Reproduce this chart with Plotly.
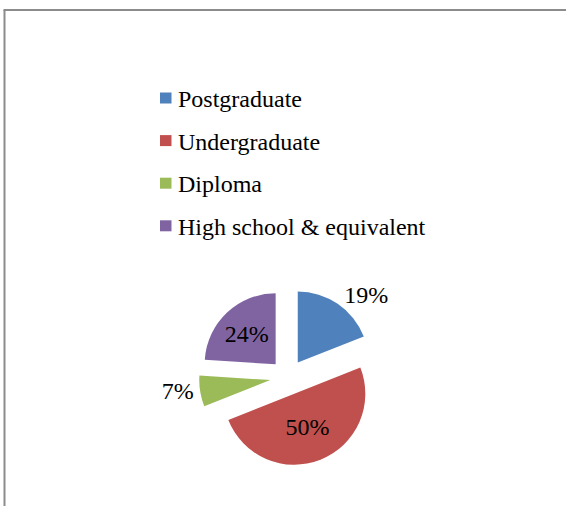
import plotly.graph_objects as go

# Education level shares (percent)
categories = ["Postgraduate", "Undergraduate", "Diploma", "High school & equivalent"]
shares = [19, 50, 7, 24]
colors = ["#4F81BD", "#C0504D", "#9BBB59", "#8064A2"]
label_positions = ["outside", "inside", "outside", "inside"]

W, H = 567, 506
FONT = "'Liberation Serif', 'Times New Roman', Times, serif"


def px_x(v):
    return v / W


def px_y(v):
    return 1 - v / H


fig = go.Figure()

fig.add_trace(go.Pie(
    labels=categories,
    values=shares,
    sort=False,
    direction="clockwise",
    rotation=0,
    pull=[0.25] * len(shares),
    marker=dict(colors=colors, line=dict(width=0)),
    textinfo="percent",
    texttemplate="%{percent:.0%}",
    textposition=label_positions,
    insidetextorientation="horizontal",
    textfont=dict(family=FONT, size=24, color="black"),
    showlegend=False,
    hoverinfo="label+percent",
    domain=dict(x=[px_x(199.0), px_x(376.6)], y=[px_y(466.0), px_y(288.5)]),
))

# Legend: coloured squares with category names
shapes = []
annotations = []
legend_top = 98.0
legend_step = 42.6
for i, (name, col) in enumerate(zip(categories, colors)):
    cy = legend_top + i * legend_step
    shapes.append(dict(
        type="rect", xref="paper", yref="paper",
        x0=px_x(160), x1=px_x(171.5), y0=px_y(cy + 5.5), y1=px_y(cy - 5.5),
        fillcolor=col, line=dict(width=0),
    ))
    annotations.append(dict(
        text=name, xref="paper", yref="paper",
        x=px_x(176), y=px_y(cy + 1), xanchor="left", yanchor="middle",
        showarrow=False, font=dict(family=FONT, size=24, color="black"),
    ))

# Chart area frame (top and left edges visible)
frame = dict(color="#8c8c8c", width=2)
shapes.append(dict(type="line", xref="paper", yref="paper",
                   x0=px_x(3.5), x1=px_x(566), y0=px_y(10), y1=px_y(10), line=frame))
shapes.append(dict(type="line", xref="paper", yref="paper",
                   x0=px_x(4.5), x1=px_x(4.5), y0=px_y(10), y1=0, line=frame))

fig.update_layout(
    width=W, height=H,
    margin=dict(l=0, r=0, t=0, b=0),
    paper_bgcolor="white",
    plot_bgcolor="white",
    shapes=shapes,
    annotations=annotations,
    font=dict(family=FONT, size=24, color="black"),
)

fig.write_html("out.html")
